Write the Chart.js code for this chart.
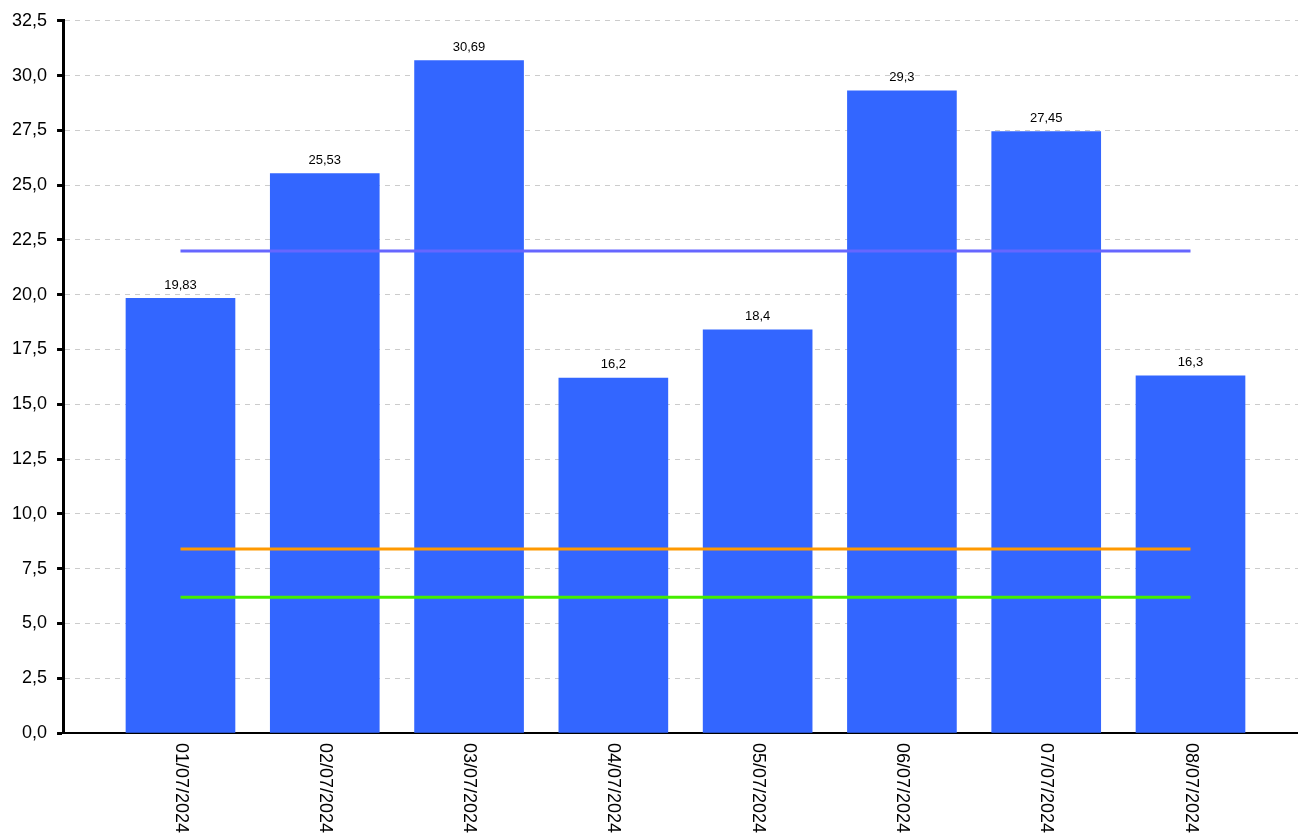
<!DOCTYPE html>
<html>
<head>
<meta charset="utf-8">
<script src="https://cdn.jsdelivr.net/npm/chart.js@4/dist/chart.umd.min.js"></script>
<style>
  html, body { margin: 0; padding: 0; background: #fff; }
  #wrap { width: 1298px; height: 836px; }
</style>
</head>
<body>
<div id="wrap"><canvas id="chart"></canvas></div>
<script>
// data
const dates = ['01/07/2024', '02/07/2024', '03/07/2024', '04/07/2024',
               '05/07/2024', '06/07/2024', '07/07/2024', '08/07/2024'];
const values = [19.83, 25.53, 30.69, 16.2, 18.4, 29.3, 27.45, 16.3];
const refLevels = [22, 8.4, 6.2];
const refColors = ['#6666ff', '#ff9900', '#44ee00'];

const fmt = v => String(v).replace('.', ',');

// value labels above bars
const barLabels = {
  id: 'barLabels',
  afterDatasetsDraw(chart) {
    const ctx = chart.ctx;
    const meta = chart.getDatasetMeta(0);
    ctx.save();
    ctx.font = '13px "Liberation Sans", Arial, sans-serif';
    ctx.fillStyle = '#000';
    ctx.textAlign = 'center';
    ctx.textBaseline = 'bottom';
    meta.data.forEach((bar, i) => {
      ctx.fillText(fmt(values[i]), bar.x, bar.y - 7);
    });
    ctx.restore();
  }
};

// date labels, turned clockwise so they read top to bottom
const dateLabels = {
  id: 'dateLabels',
  afterDraw(chart) {
    const ctx = chart.ctx;
    const xs = chart.scales.x;
    ctx.save();
    ctx.font = '18px "Liberation Sans", Arial, sans-serif';
    ctx.fillStyle = '#000';
    ctx.textAlign = 'left';
    ctx.textBaseline = 'middle';
    dates.forEach((d, i) => {
      ctx.save();
      ctx.translate(xs.getPixelForValue(i), chart.chartArea.bottom + 10);
      ctx.rotate(Math.PI / 2);
      ctx.fillText(d, 0, 0);
      ctx.restore();
    });
    ctx.restore();
  }
};

const datasets = [{
  type: 'bar',
  data: values.map((v, i) => ({ x: i, y: v })),
  backgroundColor: '#3366ff',
  barThickness: 109,
  order: 1
}];
refLevels.forEach((lvl, k) => {
  datasets.push({
    type: 'line',
    data: dates.map((d, i) => ({ x: i, y: lvl })),
    borderColor: refColors[k],
    borderWidth: 3,
    pointRadius: 0,
    fill: false,
    order: 0
  });
});

new Chart(document.getElementById('chart'), {
  type: 'bar',
  data: { datasets: datasets },
  options: {
    responsive: true,
    maintainAspectRatio: false,
    animation: false,
    layout: { padding: { left: 2, top: 20, right: 0, bottom: 95 } },
    plugins: { legend: { display: false }, tooltip: { enabled: false } },
    scales: {
      x: {
        type: 'linear',
        offset: false,
        min: -0.814,
        max: 7.745,
        grid: { display: false, offset: false },
        border: { display: true, color: '#000', width: 2 },
        ticks: { display: false }
      },
      y: {
        min: 0,
        max: 32.5,
        grid: { color: '#cccccc', lineWidth: 1, tickColor: '#000', tickWidth: 3, tickLength: 6, tickBorderDash: [] },
        border: { display: true, color: '#000', width: 3, dash: [5, 5] },
        ticks: {
          stepSize: 2.5,
          padding: 10,
          color: '#000',
          font: { family: '"Liberation Sans", Arial, sans-serif', size: 18 },
          callback: v => v.toFixed(1).replace('.', ',')
        }
      }
    }
  },
  plugins: [barLabels, dateLabels]
});
</script>
</body>
</html>
